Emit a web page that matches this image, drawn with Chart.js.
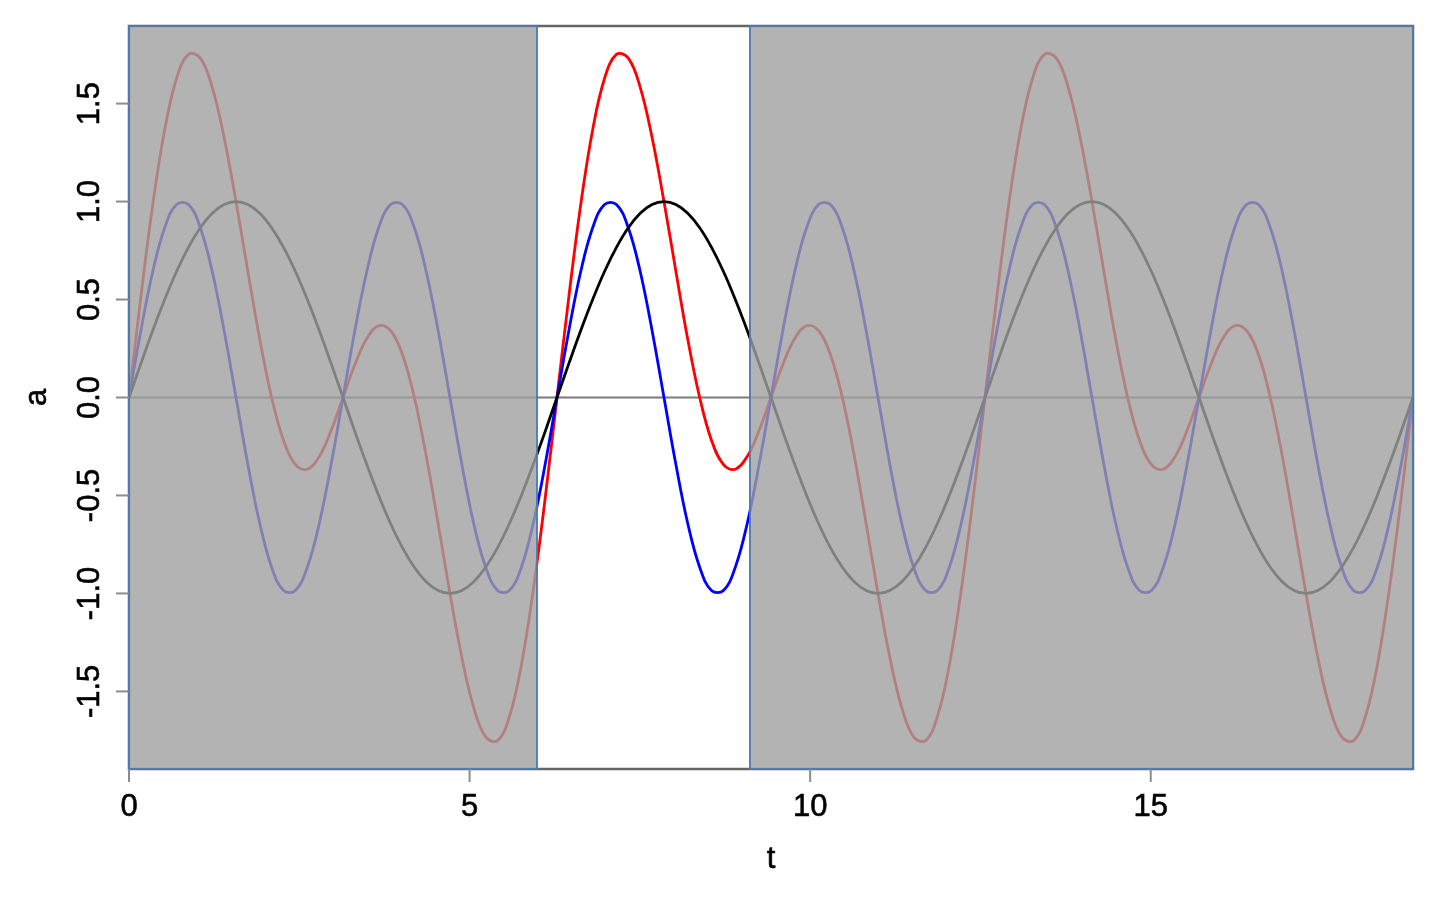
<!DOCTYPE html>
<html>
<head>
<meta charset="utf-8">
<script src="https://cdn.jsdelivr.net/npm/chart.js@4.4.0/dist/chart.umd.min.js"></script>
<style>
  html, body { margin: 0; padding: 0; background: #fff; }
  #wrap { width: 1439px; height: 900px; }
</style>
</head>
<body>
<div id="wrap"><canvas id="waveChart"></canvas></div>
<script>
// sample times t (0 .. 6*pi)
const t = [
  0, 0.175, 0.349, 0.524, 0.698, 0.873, 1.047, 1.222, 1.396, 1.571, 1.745, 1.920,
  2.094, 2.269, 2.443, 2.618, 2.793, 2.967, 3.142, 3.316, 3.491, 3.665, 3.840, 4.014,
  4.189, 4.363, 4.538, 4.712, 4.887, 5.061, 5.236, 5.411, 5.585, 5.760, 5.934, 6.109,
  6.283, 6.458, 6.632, 6.807, 6.981, 7.156, 7.330, 7.505, 7.679, 7.854, 8.029, 8.203,
  8.378, 8.552, 8.727, 8.901, 9.076, 9.250, 9.425, 9.599, 9.774, 9.948, 10.123, 10.297,
  10.472, 10.647, 10.821, 10.996, 11.170, 11.345, 11.519, 11.694, 11.868, 12.043, 12.217, 12.392,
  12.566, 12.741, 12.915, 13.090, 13.265, 13.439, 13.614, 13.788, 13.963, 14.137, 14.312, 14.486,
  14.661, 14.835, 15.010, 15.184, 15.359, 15.533, 15.708, 15.883, 16.057, 16.232, 16.406, 16.581,
  16.755, 16.930, 17.104, 17.279, 17.453, 17.628, 17.802, 17.977, 18.151, 18.326, 18.500, 18.675,
  18.850
];

// black curve
const aBlack = [
  0, 0.174, 0.342, 0.5, 0.643, 0.766, 0.866, 0.94, 0.985, 1, 0.985, 0.94, 0.866, 0.766, 0.643, 0.5, 0.342, 0.174,
  0, -0.174, -0.342, -0.5, -0.643, -0.766, -0.866, -0.94, -0.985, -1, -0.985, -0.94, -0.866, -0.766, -0.643, -0.5, -0.342, -0.174,
  0, 0.174, 0.342, 0.5, 0.643, 0.766, 0.866, 0.94, 0.985, 1, 0.985, 0.94, 0.866, 0.766, 0.643, 0.5, 0.342, 0.174,
  0, -0.174, -0.342, -0.5, -0.643, -0.766, -0.866, -0.94, -0.985, -1, -0.985, -0.94, -0.866, -0.766, -0.643, -0.5, -0.342, -0.174,
  0, 0.174, 0.342, 0.5, 0.643, 0.766, 0.866, 0.94, 0.985, 1, 0.985, 0.94, 0.866, 0.766, 0.643, 0.5, 0.342, 0.174,
  0, -0.174, -0.342, -0.5, -0.643, -0.766, -0.866, -0.94, -0.985, -1, -0.985, -0.94, -0.866, -0.766, -0.643, -0.5, -0.342, -0.174,
  0
];

// blue curve
const aBlue = [
  0, 0.342, 0.643, 0.866, 0.985, 0.985, 0.866, 0.643, 0.342, 0, -0.342, -0.643, -0.866, -0.985, -0.985, -0.866, -0.643, -0.342,
  0, 0.342, 0.643, 0.866, 0.985, 0.985, 0.866, 0.643, 0.342, 0, -0.342, -0.643, -0.866, -0.985, -0.985, -0.866, -0.643, -0.342,
  0, 0.342, 0.643, 0.866, 0.985, 0.985, 0.866, 0.643, 0.342, 0, -0.342, -0.643, -0.866, -0.985, -0.985, -0.866, -0.643, -0.342,
  0, 0.342, 0.643, 0.866, 0.985, 0.985, 0.866, 0.643, 0.342, 0, -0.342, -0.643, -0.866, -0.985, -0.985, -0.866, -0.643, -0.342,
  0, 0.342, 0.643, 0.866, 0.985, 0.985, 0.866, 0.643, 0.342, 0, -0.342, -0.643, -0.866, -0.985, -0.985, -0.866, -0.643, -0.342,
  0, 0.342, 0.643, 0.866, 0.985, 0.985, 0.866, 0.643, 0.342, 0, -0.342, -0.643, -0.866, -0.985, -0.985, -0.866, -0.643, -0.342,
  0
];

// red curve
const aRed = [
  0, 0.516, 0.985, 1.366, 1.628, 1.751, 1.732, 1.583, 1.327, 1, 0.643, 0.297, 0, -0.219, -0.342, -0.366, -0.301, -0.168,
  0, 0.168, 0.301, 0.366, 0.342, 0.219, 0, -0.297, -0.643, -1, -1.327, -1.583, -1.732, -1.751, -1.628, -1.366, -0.985, -0.516,
  0, 0.516, 0.985, 1.366, 1.628, 1.751, 1.732, 1.583, 1.327, 1, 0.643, 0.297, 0, -0.219, -0.342, -0.366, -0.301, -0.168,
  0, 0.168, 0.301, 0.366, 0.342, 0.219, 0, -0.297, -0.643, -1, -1.327, -1.583, -1.732, -1.751, -1.628, -1.366, -0.985, -0.516,
  0, 0.516, 0.985, 1.366, 1.628, 1.751, 1.732, 1.583, 1.327, 1, 0.643, 0.297, 0, -0.219, -0.342, -0.366, -0.301, -0.168,
  0, 0.168, 0.301, 0.366, 0.342, 0.219, 0, -0.297, -0.643, -1, -1.327, -1.583, -1.732, -1.751, -1.628, -1.366, -0.985, -0.516,
  0
];

// axis ticks
const xTicks = [0, 5, 10, 15];
const yTicks = [-1.5, -1.0, -0.5, 0.0, 0.5, 1.0, 1.5];
const yTickLabels = ['-1.5', '-1.0', '-0.5', '0.0', '0.5', '1.0', '1.5'];

// shaded (dimmed) t ranges
const shadeFrom = [0, 9.116];
const shadeTo = [5.99, 18.850];

const toPoints = ys => ys.map((y, i) => ({ x: t[i], y: y }));

const FONT = '31px "Liberation Sans", Arial, sans-serif';

// draws R-style frame, dimmed bands, ticks and labels
const rFrame = {
    id: 'rFrame',
    beforeDatasetsDraw(chart) {
        const { ctx, chartArea: a, scales: { y } } = chart;
        ctx.save();
        ctx.strokeStyle = '#7a7a7a';
        ctx.lineWidth = 2;
        const y0 = y.getPixelForValue(0);
        ctx.beginPath();
        ctx.moveTo(a.left, y0);
        ctx.lineTo(a.right, y0);
        ctx.stroke();
        ctx.restore();
    },
    afterDatasetsDraw(chart) {
        const { ctx, chartArea: a, scales: { x, y } } = chart;
        ctx.save();

        // plot box
        ctx.strokeStyle = '#666';
        ctx.lineWidth = 2.5;
        ctx.strokeRect(a.left, a.top, a.right - a.left, a.bottom - a.top);

        // dimmed bands
        shadeFrom.forEach((from, i) => {
            const x0 = x.getPixelForValue(from);
            const x1 = x.getPixelForValue(shadeTo[i]);
            ctx.fillStyle = 'rgba(160,160,160,0.8)';
            ctx.fillRect(x0, a.top, x1 - x0, a.bottom - a.top);
            ctx.strokeStyle = '#4a7ab0';
            ctx.lineWidth = 1.8;
            ctx.strokeRect(x0, a.top, x1 - x0, a.bottom - a.top);
        });

        // ticks
        ctx.strokeStyle = '#8c8c8c';
        ctx.lineWidth = 2;
        xTicks.forEach(v => {
            const px = x.getPixelForValue(v);
            ctx.beginPath();
            ctx.moveTo(px, a.bottom);
            ctx.lineTo(px, a.bottom + 13);
            ctx.stroke();
        });
        yTicks.forEach(v => {
            const py = y.getPixelForValue(v);
            ctx.beginPath();
            ctx.moveTo(a.left, py);
            ctx.lineTo(a.left - 13, py);
            ctx.stroke();
        });

        // tick labels (slight stroke to match the heavier reference text)
        ctx.fillStyle = '#000';
        ctx.strokeStyle = '#000';
        ctx.lineWidth = 0.6;
        ctx.font = FONT;
        ctx.textAlign = 'center';
        ctx.textBaseline = 'alphabetic';
        const label = (s, px, py) => { ctx.fillText(s, px, py); ctx.strokeText(s, px, py); };
        xTicks.forEach(v => {
            label(String(v), x.getPixelForValue(v), a.bottom + 47);
        });
        yTicks.forEach((v, i) => {
            ctx.save();
            ctx.translate(a.left - 30, y.getPixelForValue(v));
            ctx.rotate(-Math.PI / 2);
            label(yTickLabels[i], 0, 0);
            ctx.restore();
        });

        // axis titles
        label('t', (a.left + a.right) / 2, a.bottom + 99);
        ctx.save();
        ctx.translate(46, (a.top + a.bottom) / 2);
        ctx.rotate(-Math.PI / 2);
        label('a', 0, 0);
        ctx.restore();

        ctx.restore();
    }
};

document.addEventListener('DOMContentLoaded', () => {
    const ctx = document.getElementById('waveChart').getContext('2d');

    new Chart(ctx, {
        type: 'line',
        data: {
            datasets: [
                { data: toPoints(aBlack), borderColor: '#000000' },
                { data: toPoints(aBlue), borderColor: '#0000ff' },
                { data: toPoints(aRed), borderColor: '#ff0000' }
            ]
        },
        options: {
            responsive: true,
            maintainAspectRatio: false,
            animation: false,
            layout: { padding: { left: 129, right: 26, top: 26, bottom: 131 } },
            elements: {
                point: { radius: 0 },
                line: { borderWidth: 2.8, tension: 0.4, fill: false }
            },
            plugins: {
                legend: { display: false },
                tooltip: { enabled: false }
            },
            scales: {
                x: { type: 'linear', min: 0, max: 18.850, display: false },
                y: { type: 'linear', min: -1.896, max: 1.896, display: false }
            }
        },
        plugins: [rFrame]
    });
});
</script>
</body>
</html>
